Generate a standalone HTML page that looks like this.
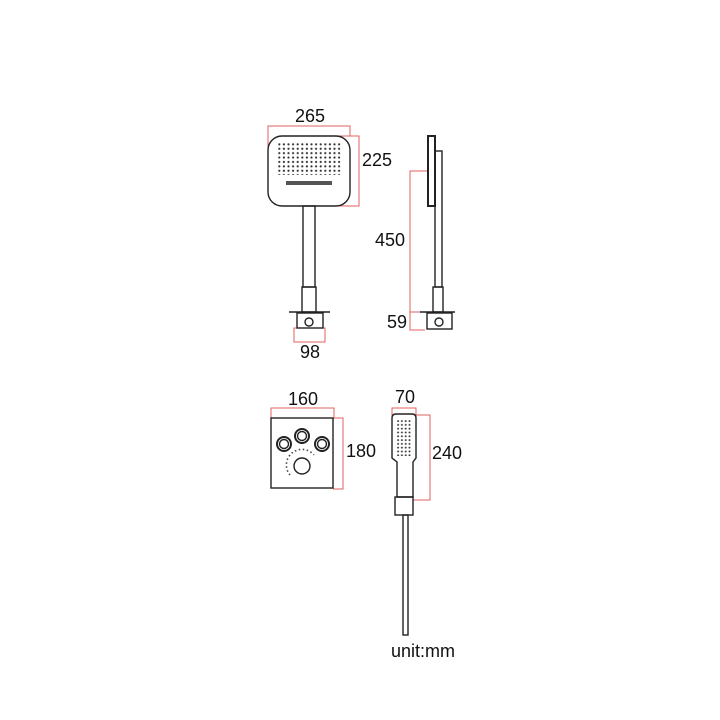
<!DOCTYPE html>
<html><head><style>body{margin:0;background:#fff}svg{display:block}text{font-family:"Liberation Sans",sans-serif;font-size:18px;fill:#111}</style></head>
<body>
<svg width="720" height="720" viewBox="0 0 720 720" xmlns="http://www.w3.org/2000/svg">
<defs>
<pattern id="dots" x="278" y="143" width="4.6" height="4.4" patternUnits="userSpaceOnUse"><circle cx="1.3" cy="1.3" r="1.1" fill="#333"/></pattern>
<pattern id="dots2" x="397" y="420" width="3.8" height="3.8" patternUnits="userSpaceOnUse"><circle cx="1.1" cy="1.1" r="0.95" fill="#333"/></pattern>
</defs>
<g fill="none" stroke="#e06060" stroke-width="1">
<polyline points="268,152 268,126 350,126 350,136"/>
<polyline points="324,136 359,136 359,206 324,206"/>
<rect x="294" y="328" width="31" height="14"/>
<polyline points="428,171 410,171 410,330 425,330"/>
<line x1="410" y1="312" x2="422" y2="312"/>
<polyline points="271,418 271,408 334,408 334,418"/>
<polyline points="333,418 343,418 343,489 333,489"/>
<polyline points="392,416 392,408 416,408 416,416"/>
<polyline points="414,415 430,415 430,500 413,500"/>
</g>
<g fill="none" stroke="#222" stroke-width="1.4">
<rect x="268" y="136" width="82" height="70" rx="14"/>
<rect x="303" y="206" width="12" height="81"/>
<rect x="302" y="287" width="14" height="25"/>
<line x1="289" y1="312" x2="330" y2="312"/>
<rect x="297" y="313" width="26" height="15"/>
<circle cx="309" cy="322" r="4"/>
<rect x="428" y="136" width="7" height="70" stroke-width="2"/>
<rect x="435" y="151" width="7" height="136"/>
<rect x="433" y="287" width="10" height="25"/>
<line x1="420" y1="312" x2="455" y2="312"/>
<rect x="427" y="313" width="25" height="16"/>
<circle cx="439" cy="322" r="4"/>
<rect x="271" y="418" width="62" height="70"/>
<circle cx="284" cy="444" r="7" stroke-width="2"/><circle cx="284" cy="444" r="4.5"/>
<circle cx="302" cy="436" r="7" stroke-width="2"/><circle cx="302" cy="436" r="4.5"/>
<circle cx="322" cy="444" r="7" stroke-width="2"/><circle cx="322" cy="444" r="4.5"/>
<circle cx="302" cy="466" r="8"/>
<path d="M392,418 q0,-4 4,-4 h16 q4,0 4,4 v40 l-3,4 v35 h-16 v-35 l-5,-4 z"/>
<rect x="395" y="497" width="18" height="18"/>
<rect x="403" y="515" width="5" height="120"/>
</g>
<rect x="278" y="143" width="64" height="32" fill="url(#dots)"/>
<rect x="286" y="181" width="46" height="4" fill="#555"/>
<rect x="396" y="419" width="16" height="37" fill="url(#dots2)"/>
<path d="M290,475 a14,14 0 0 1 24,-20" fill="none" stroke="#444" stroke-width="1.6" stroke-dasharray="1.5,2.5"/>
<text x="310" y="122" text-anchor="middle">265</text>
<text x="362" y="166">225</text>
<text x="310" y="358" text-anchor="middle">98</text>
<text x="375" y="246">450</text>
<text x="387" y="328">59</text>
<text x="303" y="405" text-anchor="middle">160</text>
<text x="346" y="457">180</text>
<text x="405" y="403" text-anchor="middle">70</text>
<text x="432" y="459">240</text>
<text x="391" y="657">unit:mm</text>
</svg>
</body></html>
